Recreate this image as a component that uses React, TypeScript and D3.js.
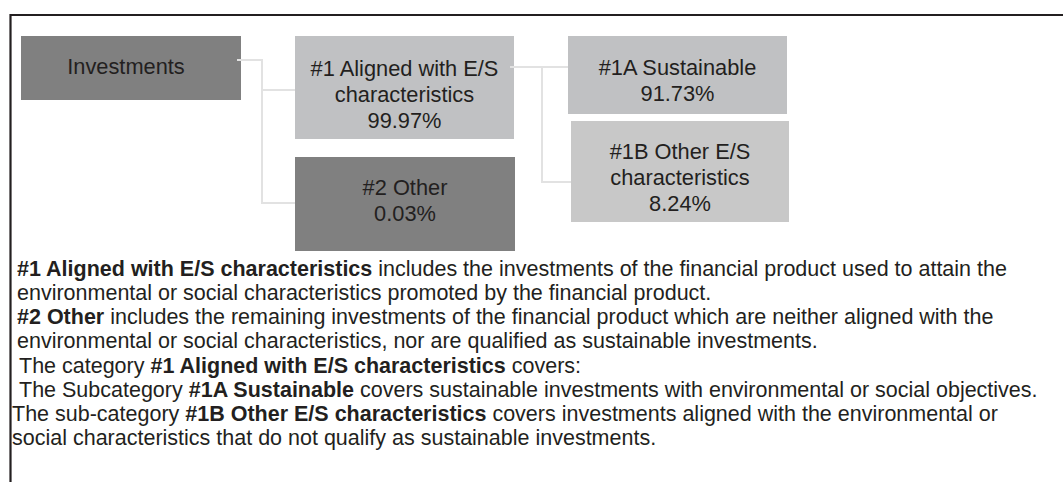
import { useMemo } from 'react';
import * as d3 from 'd3';

const W = 1063;
const H = 482;

// diagram nodes
const nodeIds = ['inv', 'n1', 'n2', 'n1a', 'n1b'];
const nodeLabels = [
  ['Investments'],
  ['#1 Aligned with E/S', 'characteristics'],
  ['#2 Other'],
  ['#1A Sustainable'],
  ['#1B Other E/S', 'characteristics'],
];
const nodeShares = [null, 99.97, 0.03, 91.73, 8.24];
const nodeParents = [null, 'inv', 'inv', 'n1', 'n1'];

// explanatory notes, [text, bold]
const noteLines = [
  [['#1 Aligned with E/S characteristics', true], [' includes the investments of the financial product used to attain the', false]],
  [['environmental or social characteristics promoted by the financial product.', false]],
  [['#2 Other', true], [' includes the remaining investments of the financial product which are neither aligned with the', false]],
  [['environmental or social characteristics, nor are qualified as sustainable investments.', false]],
  [['The category ', false], ['#1 Aligned with E/S characteristics', true], [' covers:', false]],
  [['The Subcategory ', false], ['#1A Sustainable', true], [' covers sustainable investments with environmental or social objectives.', false]],
  [['The sub-category ', false], ['#1B Other E/S characteristics', true], [' covers investments aligned with the environmental or', false]],
  [['social characteristics that do not qualify as sustainable investments.', false]],
];

// layout (pixels)
const boxes = {
  inv: { x0: 21, x1: 241, y0: 36, y1: 100, fill: '#808080', exitY: 60, elbow: 262, textY: 66 },
  n1: { x0: 295, x1: 514, y0: 36, y1: 139, fill: '#c0c1c3', entryY: 90, exitY: 67, elbow: 542, textY: 94 },
  n2: { x0: 295, x1: 515, y0: 157, y1: 251, fill: '#808080', entryY: 203, textY: 200 },
  n1a: { x0: 568, x1: 787, y0: 36, y1: 114, fill: '#c0c1c3', entryY: 67, textY: 80 },
  n1b: { x0: 571, x1: 789, y0: 121, y1: 222, fill: '#c8c8c8', entryY: 182, textY: 177 },
};
const noteIndent = [17, 17, 17, 17, 19, 19, 12, 12];

const FONT = '"Liberation Sans", Arial, Helvetica, sans-serif';
const FS = 21.8;
const NOTE_FS = 21.5;
const BOX_LINE = 26;
const INK = '#231f20';

export default function App() {
  const fmt = d3.format('.2f');
  const link = d3.line();

  const connectors = useMemo(
    () =>
      nodeIds
        .map((id, i) => ({ id, parent: nodeParents[i] }))
        .filter((d) => d.parent)
        .map((d) => {
          const p = boxes[d.parent];
          const c = boxes[d.id];
          return link([
            [p.x1 - 4, p.exitY],
            [p.elbow, p.exitY],
            [p.elbow, c.entryY],
            [c.x0, c.entryY],
          ]);
        }),
    []
  );

  const lineY = d3.scaleLinear().domain([0, noteLines.length - 1]).range([269, 438]);

  return (
    <svg
      width={W}
      height={H}
      style={{ position: 'absolute', left: 0, top: 0, background: '#fff' }}
      fontFamily={FONT}
    >
      <rect width={W} height={H} fill="#fff" />
      {/* frame: top and left rules */}
      <path d={`M${W},15H10.5V${H}`} fill="none" stroke={INK} strokeWidth={2.2} />

      {nodeIds.map((id) => {
        const b = boxes[id];
        return <rect key={id} x={b.x0} y={b.y0} width={b.x1 - b.x0} height={b.y1 - b.y0} fill={b.fill} />;
      })}

      {connectors.map((d, i) => (
        <path key={i} d={d} fill="none" stroke="#e2e2e2" strokeWidth={2} />
      ))}

      {nodeIds.map((id, i) => {
        const b = boxes[id];
        const lines = nodeShares[i] == null ? nodeLabels[i] : [...nodeLabels[i], `${fmt(nodeShares[i])}%`];
        const cx = id === 'inv' ? 126 : (b.x0 + b.x1) / 2;
        const top = b.textY - ((lines.length - 1) * BOX_LINE) / 2;
        return (
          <text key={id} fontSize={FS} fill={INK} textAnchor="middle" dominantBaseline="central">
            {lines.map((t, j) => (
              <tspan key={j} x={cx} y={top + j * BOX_LINE}>
                {t}
              </tspan>
            ))}
          </text>
        );
      })}

      {noteLines.map((segs, i) => (
        <text
          key={i}
          x={noteIndent[i]}
          y={lineY(i)}
          fontSize={NOTE_FS}
          fill={INK}
          dominantBaseline="central"
          style={{ whiteSpace: 'pre' }}
        >
          {segs.map(([t, bold], j) => (
            <tspan key={j} fontWeight={bold ? 'bold' : 'normal'}>
              {t}
            </tspan>
          ))}
        </text>
      ))}
    </svg>
  );
}
